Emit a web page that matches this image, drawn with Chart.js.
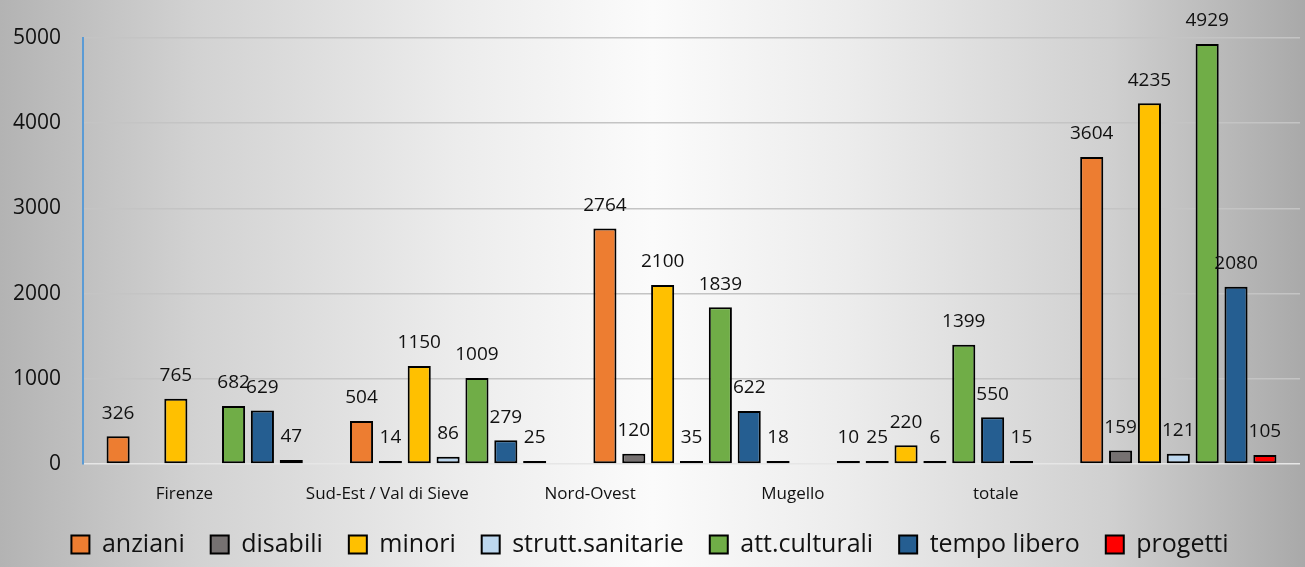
<!DOCTYPE html>
<html lang="it">
<head>
<meta charset="utf-8">
<title>Volontari per area e settore</title>
<script src="https://cdn.jsdelivr.net/npm/chart.js@4"></script>
<style>
  html, body { margin: 0; padding: 0; }
  body {
    width: 1305px;
    height: 567px;
    overflow: hidden;
    background: linear-gradient(to right, #b3b3b3 0%, #d2d2d2 15%, #ececec 35%, #fbfbfb 50%, #ececec 65%, #d0d0d0 85%, #a9a9a9 100%);
  }
  #chart { display: block; }
</style>
</head>
<body>
<canvas id="chart" width="1305" height="567"></canvas>
<script>
// ==============================
// DATA
// ==============================
const categories = ["Firenze", "Sud-Est / Val di Sieve", "Nord-Ovest", "Mugello", "totale"];
const seriesNames = ["anziani", "disabili", "minori", "strutt.sanitarie", "att.culturali", "tempo libero", "progetti"];

const anziani = [326, 504, 2764, 10, 3604];
const disabili = [null, 14, 120, 25, 159];
const minori = [765, 1150, 2100, 220, 4235];
const struttSanitarie = [null, 86, 35, 6, 121];
const attCulturali = [682, 1009, 1839, 1399, 4929];
const tempoLibero = [629, 279, 622, 550, 2080];
const progetti = [47, 25, 18, 15, 105];

const yTicks = [0, 1000, 2000, 3000, 4000, 5000];

// ==============================
// STYLE
// ==============================
const colors = ["#ED7D31", "#767171", "#FFC000", "#BDD7EE", "#70AD47", "#255E91", "#FF0000"];
const values = [anziani, disabili, minori, struttSanitarie, attCulturali, tempoLibero, progetti];
const fontFamily = "'Open Sans', 'Noto Sans', sans-serif";

// value labels above each bar
const valueLabels = {
  id: "valueLabels",
  afterDatasetsDraw(chart) {
    const ctx = chart.ctx;
    ctx.save();
    ctx.font = "19px " + fontFamily;
    ctx.fillStyle = "#111";
    ctx.textAlign = "center";
    ctx.textBaseline = "middle";
    chart.data.datasets.forEach((ds, i) => {
      const meta = chart.getDatasetMeta(i);
      meta.data.forEach((bar, j) => {
        const v = ds.data[j];
        if (v === null || v === undefined) return;
        ctx.fillText(String(v), bar.x, bar.y - 23);
      });
    });
    ctx.restore();
  }
};

// ==============================
// CHART
// ==============================
new Chart(document.getElementById("chart"), {
  type: "bar",
  data: {
    labels: categories,
    datasets: seriesNames.map((name, i) => ({
      label: name,
      data: values[i],
      backgroundColor: colors[i],
      borderColor: "#000",
      borderWidth: 2,
      borderSkipped: false,
      minBarLength: 3,
      barPercentage: 0.8,
      categoryPercentage: 0.83
    }))
  },
  options: {
    responsive: false,
    animation: false,
    layout: { padding: { top: 38, right: 5, left: 0, bottom: 0 } },
    scales: {
      x: {
        display: false
      },
      xLabels: {
        type: "category",
        position: "bottom",
        labels: [...categories, ""],
        offset: true,
        grid: { display: false, drawTicks: false },
        border: { display: false },
        ticks: {
          color: "#111",
          font: { family: fontFamily, size: 17 },
          padding: 20,
          maxRotation: 0,
          autoSkip: false
        },
        afterFit(scale) { scale.height = 42; }
      },
      y: {
        min: yTicks[0],
        max: yTicks[yTicks.length - 1],
        afterBuildTicks(scale) { scale.ticks = yTicks.map(v => ({ value: v })); },
        ticks: {
          color: "#111",
          font: { family: fontFamily, size: 21 },
          padding: 22,
          callback: v => String(v)
        },
        grid: {
          drawTicks: false,
          lineWidth: 1.5,
          color: c => (c.tick && c.tick.value === 0 ? "#e6e6e6" : "#c4c4c4")
        },
        border: { color: "#5B9BD5", width: 2 },
        afterFit(scale) { scale.width = 83; }
      }
    },
    plugins: {
      legend: {
        position: "bottom",
        labels: {
          color: "#111",
          font: { family: fontFamily, size: 25 },
          boxWidth: 18,
          boxHeight: 18,
          padding: 26
        }
      },
      tooltip: { enabled: false }
    }
  },
  plugins: [valueLabels]
});
</script>
</body>
</html>
